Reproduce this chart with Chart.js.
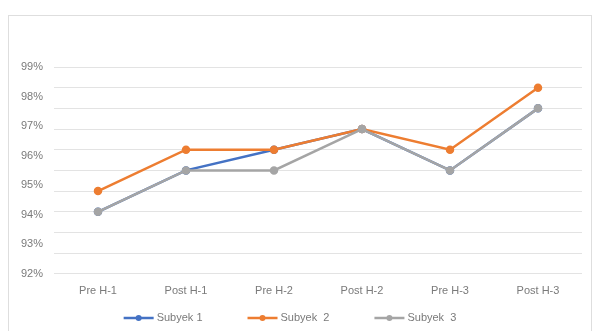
<!DOCTYPE html>
<html>
<head>
<meta charset="utf-8">
<script src="https://cdn.jsdelivr.net/npm/chart.js@4/dist/chart.umd.min.js"></script>
<style>
  html, body { margin: 0; padding: 0; background: #fff; }
  #wrap { position: relative; width: 592px; height: 331px; }
  #frame { position: absolute; left: 8px; top: 15px; width: 582px; height: 330px; border: 1px solid #dedede; }
  canvas { position: absolute; left: 0; top: 0; }
</style>
</head>
<body>
<div id="wrap">
  <div id="frame"></div>
  <canvas id="chart" width="592" height="331"></canvas>
</div>
<script>
const categories = ['Pre H-1', 'Post H-1', 'Pre H-2', 'Post H-2', 'Pre H-3', 'Post H-3'];
const subyek1 = [94.1, 95.5, 96.2, 96.9, 95.5, 97.6];
const subyek2 = [94.8, 96.2, 96.2, 96.9, 96.2, 98.3];
const subyek3 = [94.1, 95.5, 95.5, 96.9, 95.5, 97.6];
const seriesNames = ['Subyek 1', 'Subyek  2', 'Subyek  3'];
const yTicks = [92, 93, 94, 95, 96, 97, 98, 99];

const colors = ['#4472C4', '#ED7D31', '#A5A5A5'];
const textColor = '#7a7a7a';
const font = { family: 'Liberation Sans', size: 11 };

// gridlines split the axis range in 10 parts (as in the picture)
const yMin = yTicks[0], yMax = yTicks[yTicks.length - 1];
const gridValues = [];
for (let i = 0; i <= 10; i++) gridValues.push(yMin + (yMax - yMin) * i / 10);

const lineLegend = {
  id: 'lineLegend',
  afterDraw(chart) {
    const ctx = chart.ctx;
    ctx.save();
    ctx.font = font.size + 'px ' + font.family;
    const markW = 30, gap = 3, itemGap = 45;
    const items = chart.data.datasets.map(ds => ({ ds, w: markW + gap + ctx.measureText(ds.label).width }));
    const total = items.reduce((s, it) => s + it.w, 0) + itemGap * (items.length - 1);
    let x = chart.width / 2 - 6 - total / 2;
    const y = 318;
    items.forEach(it => {
      ctx.strokeStyle = it.ds.borderColor;
      ctx.lineWidth = 2.5;
      ctx.beginPath();
      ctx.moveTo(x, y);
      ctx.lineTo(x + markW, y);
      ctx.stroke();
      ctx.fillStyle = it.ds.borderColor;
      ctx.beginPath();
      ctx.arc(x + markW / 2, y, 3, 0, Math.PI * 2);
      ctx.fill();
      ctx.fillStyle = textColor;
      ctx.textBaseline = 'middle';
      ctx.textAlign = 'left';
      ctx.fillText(it.ds.label, x + markW + gap, y);
      x += it.w + itemGap;
    });
    ctx.restore();
  }
};

const seriesData = [subyek1, subyek2, subyek3];
const datasets = seriesData.map((d, i) => ({
  label: seriesNames[i],
  data: d,
  borderColor: colors[i],
  backgroundColor: colors[i],
  borderWidth: 2.5,
  pointRadius: 3,
  pointHoverRadius: 3,
  tension: 0,
  order: seriesData.length - i,   // later series painted over earlier ones
  yAxisID: 'y'
}));

new Chart(document.getElementById('chart'), {
  type: 'line',
  data: { labels: categories, datasets },
  options: {
    responsive: false,
    animation: false,
    layout: { padding: { left: 0, right: 10, top: 67, bottom: 22 } },
    plugins: {
      legend: { display: false },
      tooltip: { enabled: false }
    },
    scales: {
      x: {
        offset: true,
        grid: { display: false, drawTicks: false },
        border: { display: false },
        ticks: { color: textColor, font, padding: 11, maxRotation: 0 }
      },
      y: {
        min: yMin,
        max: yMax,
        grid: { display: false, drawTicks: false },
        border: { display: false },
        afterBuildTicks: axis => { axis.ticks = yTicks.map(v => ({ value: v })); },
        afterFit: axis => { axis.width = 54; },
        ticks: { color: textColor, font, padding: 11, callback: v => v + '%' }
      },
      y2: {
        position: 'right',
        min: yMin,
        max: yMax,
        grid: { color: '#e3e3e3', lineWidth: 1, drawTicks: false },
        border: { display: false },
        afterBuildTicks: axis => { axis.ticks = gridValues.map(v => ({ value: v })); },
        ticks: { display: false }
      }
    }
  },
  plugins: [lineLegend]
});
</script>
</body>
</html>
